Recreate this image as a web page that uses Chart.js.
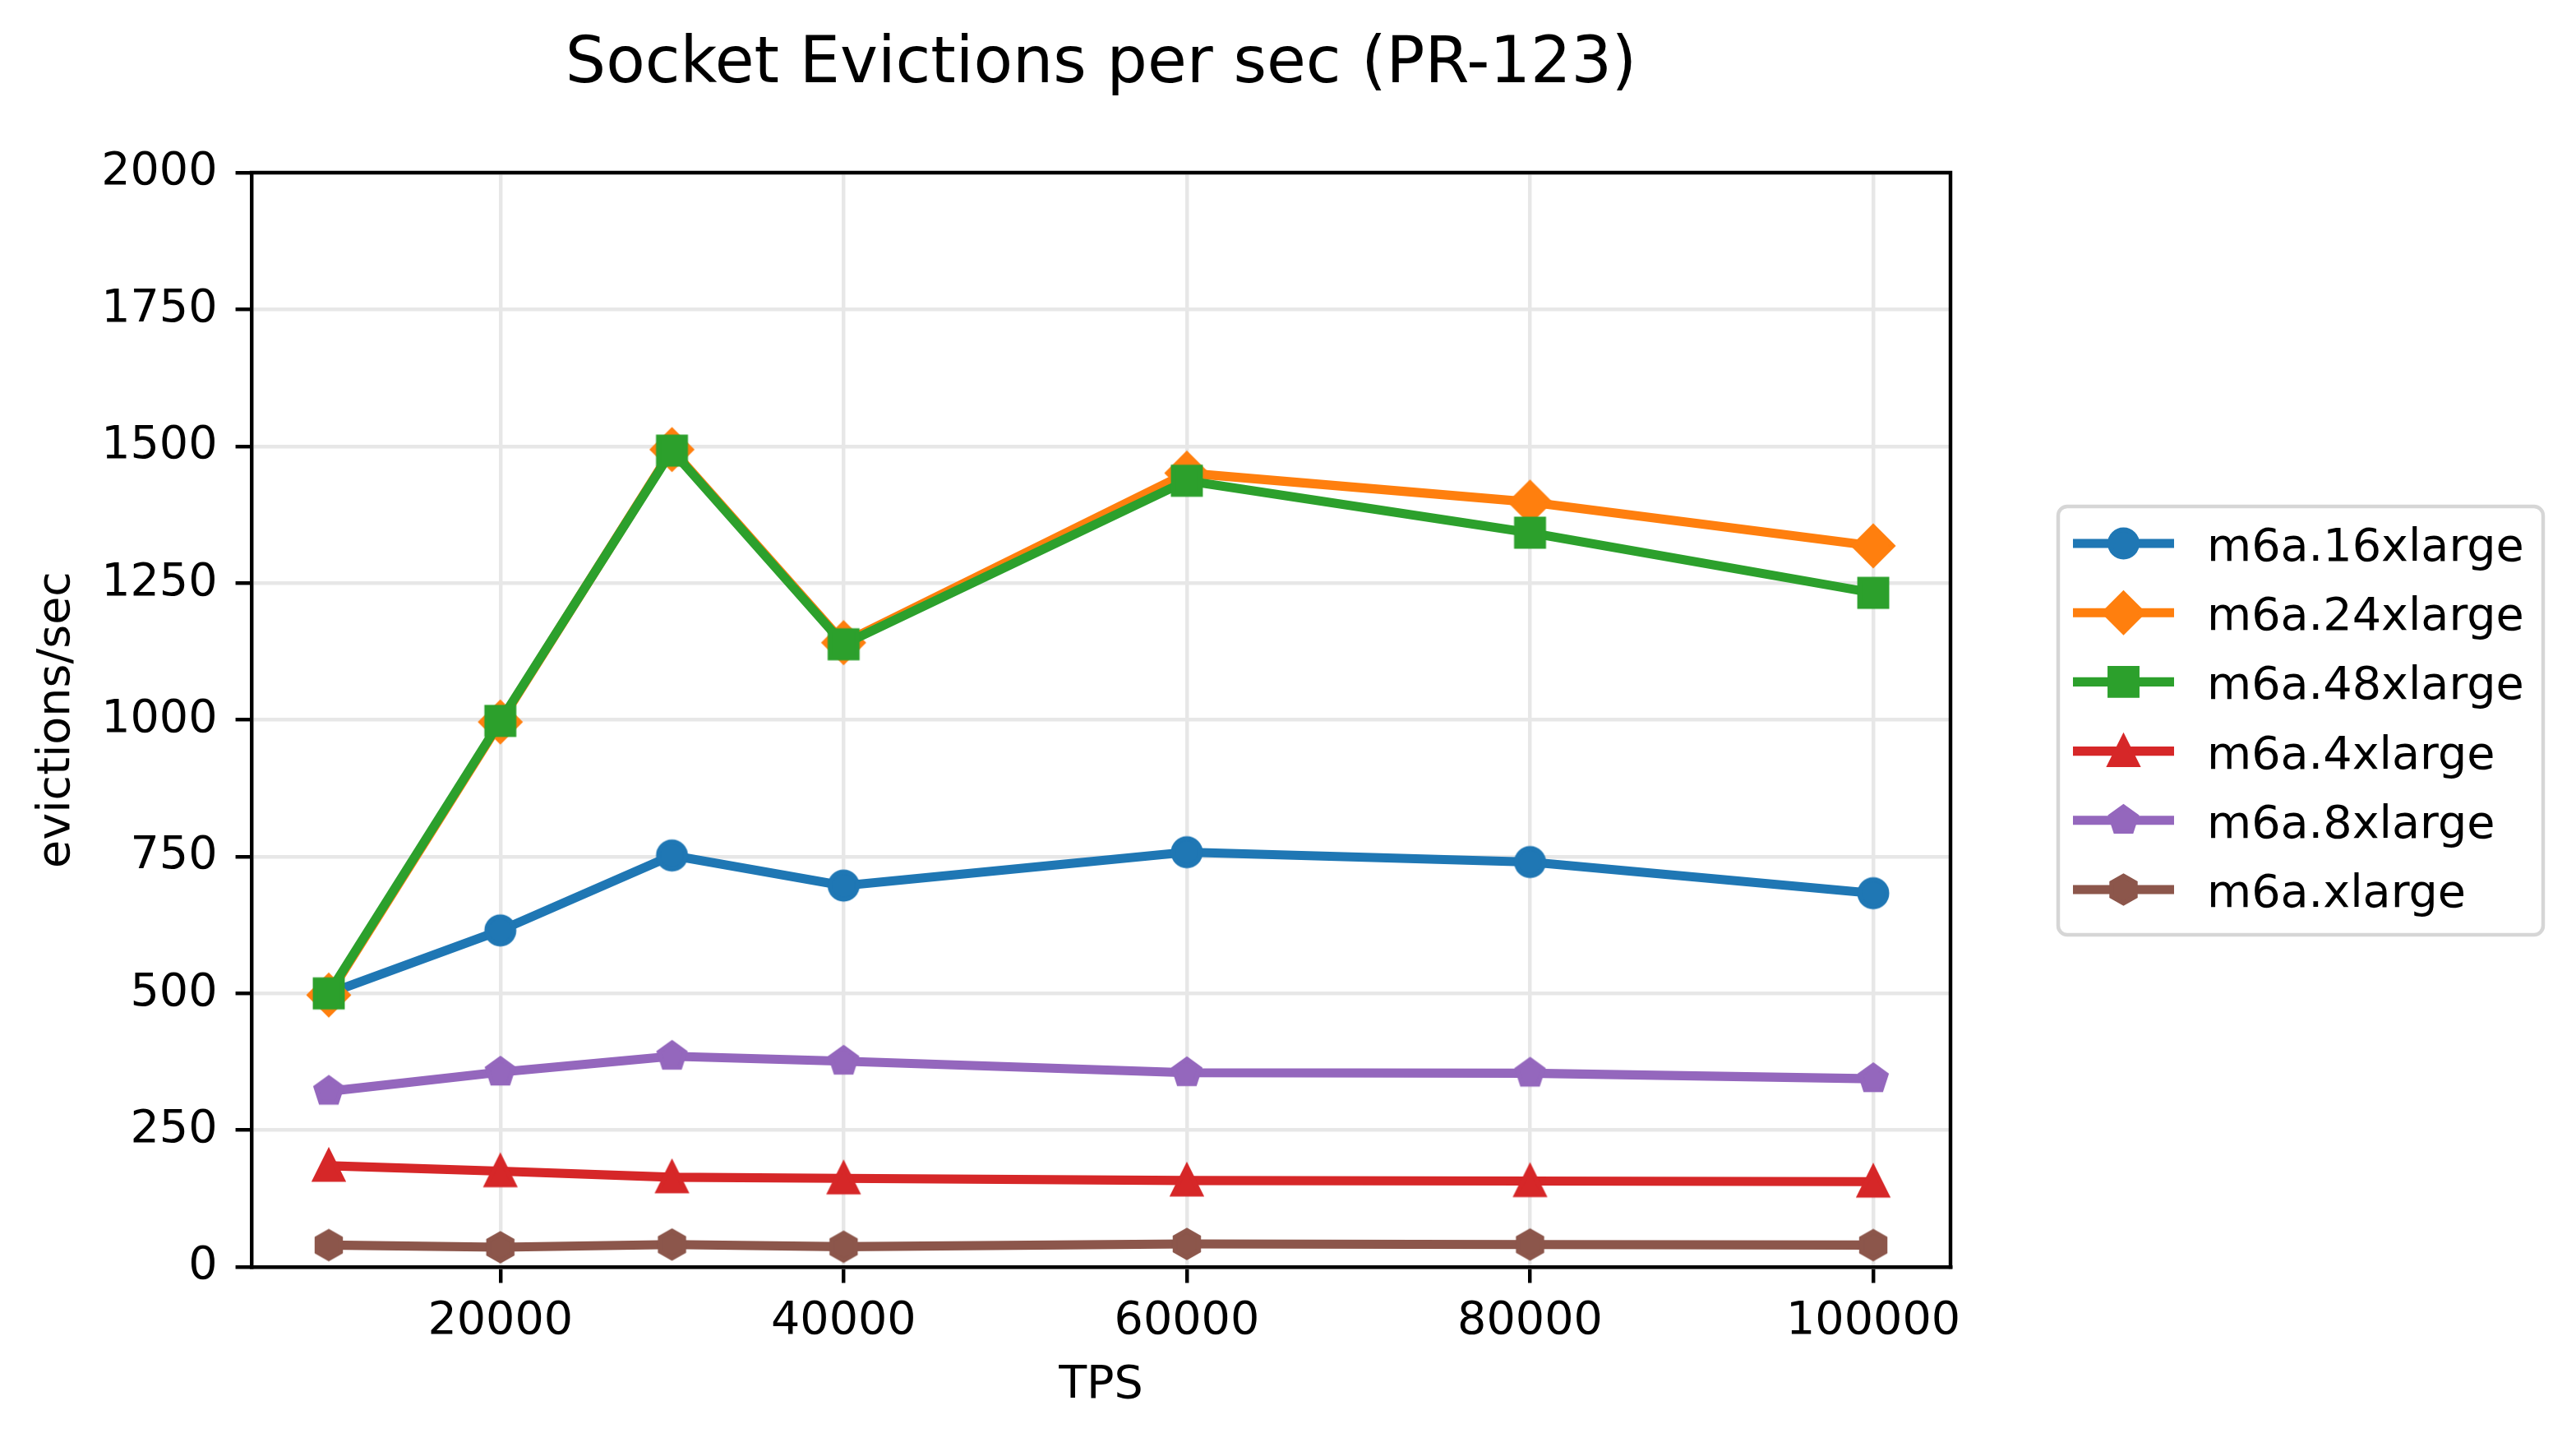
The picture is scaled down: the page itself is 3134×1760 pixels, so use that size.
<!DOCTYPE html>
<html>
<head>
<meta charset="utf-8">
<script src="https://cdn.jsdelivr.net/npm/chart.js@4.4.0/dist/chart.umd.min.js"></script>
<style>
  html, body { margin: 0; padding: 0; background: #fff; }
  canvas { display: block; }
</style>
</head>
<body>
<canvas id="grafico" width="3134" height="1760"></canvas>
<script>
// datos
const tps = [10000, 20000, 30000, 40000, 60000, 80000, 100000];
const xTicks = [20000, 40000, 60000, 80000, 100000];
const yTicks = [0, 250, 500, 750, 1000, 1250, 1500, 1750, 2000];

const nombres = ["m6a.16xlarge", "m6a.24xlarge", "m6a.48xlarge", "m6a.4xlarge", "m6a.8xlarge", "m6a.xlarge"];
const m6a16 = [500, 615, 752, 697, 758, 740, 683];
const m6a24 = [497, 996, 1494, 1141, 1451, 1398, 1318];
const m6a48 = [500, 998, 1492, 1138, 1437, 1342, 1232];
const m6a4 = [185, 175, 164, 162, 158, 157, 156];
const m6a8 = [321, 356, 385, 376, 355, 354, 344];
const m6a1 = [40, 36, 41, 37, 42, 41, 40];

const colores = ["#1f77b4", "#ff7f0e", "#2ca02c", "#d62728", "#9467bd", "#8c564b"];
const formas = ["circle", "diamond", "square", "triangle", "pentagon", "hexagon"];
const valores = [m6a16, m6a24, m6a48, m6a4, m6a8, m6a1];

const FUENTE = '"DejaVu Sans", sans-serif';
const PT = 400 / 72; // figura a 400 dpi

// marcadores como en matplotlib (ms = 6pt, borde 1pt)
function trazarForma(ctx, forma, cx, cy) {
  const ms = 6 * PT;
  const h = ms / 2;
  ctx.beginPath();
  if (forma === "circle") {
    ctx.arc(cx, cy, h, 0, Math.PI * 2);
  } else if (forma === "square") {
    ctx.rect(cx - h, cy - h, ms, ms);
  } else if (forma === "diamond") {
    const d = ms * Math.SQRT2 / 2;
    ctx.moveTo(cx, cy - d); ctx.lineTo(cx + d, cy); ctx.lineTo(cx, cy + d); ctx.lineTo(cx - d, cy);
    ctx.closePath();
  } else if (forma === "triangle") {
    ctx.moveTo(cx, cy - h); ctx.lineTo(cx + h, cy + h); ctx.lineTo(cx - h, cy + h);
    ctx.closePath();
  } else {
    const n = forma === "pentagon" ? 5 : 6;
    for (let i = 0; i < n; i++) {
      const a = -Math.PI / 2 + i * 2 * Math.PI / n;
      const px = cx + h * Math.cos(a), py = cy + h * Math.sin(a);
      if (i === 0) ctx.moveTo(px, py); else ctx.lineTo(px, py);
    }
    ctx.closePath();
  }
}

function dibujarMarcador(ctx, forma, color, cx, cy) {
  ctx.save();
  trazarForma(ctx, forma, cx, cy);
  ctx.fillStyle = color;
  ctx.strokeStyle = color;
  ctx.lineWidth = PT;
  ctx.lineJoin = "miter";
  ctx.fill();
  ctx.stroke();
  ctx.restore();
}

function crearMarcador(forma, color) {
  const c = document.createElement("canvas");
  c.width = 70; c.height = 70;
  dibujarMarcador(c.getContext("2d"), forma, color, 35, 35);
  return c;
}

const datasets = nombres.map((nombre, i) => ({
  label: nombre,
  data: tps.map((x, j) => ({ x: x, y: valores[i][j] })),
  borderColor: colores[i],
  backgroundColor: colores[i],
  borderWidth: 2 * PT,
  borderJoinStyle: "round",
  pointStyle: crearMarcador(formas[i], colores[i]),
  pointRadius: 10,
  pointHoverRadius: 10,
  tension: 0,
  order: nombres.length - i
}));

// ejes superior/derecho y leyenda
const extras = {
  id: "extras",
  afterDraw(chart) {
    const ctx = chart.ctx;
    const a = chart.chartArea;
    ctx.save();
    ctx.strokeStyle = "#000";
    ctx.lineWidth = 0.8 * PT;
    ctx.lineCap = "square";
    ctx.beginPath();
    ctx.moveTo(a.left, a.top); ctx.lineTo(a.right, a.top); ctx.lineTo(a.right, a.bottom);
    ctx.stroke();

    // leyenda
    const lx = 2504, ly = 616, lw = 590, lh = 521, r = 11;
    ctx.beginPath();
    ctx.roundRect(lx, ly, lw, lh, r);
    ctx.fillStyle = "rgba(255,255,255,0.8)";
    ctx.fill();
    ctx.strokeStyle = "#d6d6d6";
    ctx.lineWidth = 0.8 * PT;
    ctx.stroke();

    ctx.font = (10 * PT).toFixed(1) + "px " + FUENTE;
    ctx.textBaseline = "alphabetic";
    ctx.textAlign = "left";
    nombres.forEach((nombre, i) => {
      const y = 661 + i * 84.2;
      ctx.strokeStyle = colores[i];
      ctx.lineWidth = 2 * PT;
      ctx.lineCap = "butt";
      ctx.beginPath();
      ctx.moveTo(2522, y); ctx.lineTo(2645, y);
      ctx.stroke();
      dibujarMarcador(ctx, formas[i], colores[i], 2583.5, y);
      ctx.fillStyle = "#000";
      ctx.fillText(nombre, 2685, y + 21);
    });
    ctx.restore();
  }
};

new Chart(document.getElementById("grafico"), {
  type: "line",
  data: { datasets: datasets },
  options: {
    responsive: false,
    animation: false,
    devicePixelRatio: 1,
    layout: { padding: { left: 0, right: 761, top: 0, bottom: 0 } },
    plugins: {
      legend: { display: false },
      tooltip: { enabled: false },
      title: {
        display: true,
        text: "Socket Evictions per sec (PR-123)",
        color: "#000",
        fullSize: false,
        font: { family: FUENTE, size: 14 * PT, weight: "normal", lineHeight: 1.2 },
        padding: { top: 33, bottom: 83.7 }
      }
    },
    scales: {
      x: {
        type: "linear",
        min: 5500,
        max: 104500,
        afterBuildTicks: s => { s.ticks = xTicks.map(v => ({ value: v })); },
        afterFit: s => { s.height = 219; },
        ticks: {
          color: "#000",
          padding: 14,
          maxRotation: 0,
          font: { family: FUENTE, size: 10 * PT },
          callback: v => String(v)
        },
        grid: {
          color: "#e7e7e7",
          lineWidth: 0.8 * PT,
          tickColor: "#000",
          tickLength: 3.5 * PT,
          tickWidth: 0.8 * PT
        },
        border: { display: true, color: "#000", width: 0.8 * PT },
        title: {
          display: true,
          text: "TPS",
          color: "#000",
          font: { family: FUENTE, size: 10 * PT, lineHeight: 1.2 },
          padding: { top: 0, bottom: 40.6 }
        }
      },
      y: {
        type: "linear",
        min: 0,
        max: 2000,
        afterBuildTicks: s => { s.ticks = yTicks.map(v => ({ value: v })); },
        afterFit: s => { s.width = 306; },
        ticks: {
          color: "#000",
          padding: 22,
          font: { family: FUENTE, size: 10 * PT },
          callback: v => String(v)
        },
        grid: {
          color: "#e7e7e7",
          lineWidth: 0.8 * PT,
          tickColor: "#000",
          tickLength: 3.5 * PT,
          tickWidth: 0.8 * PT
        },
        border: { display: true, color: "#000", width: 0.8 * PT },
        title: {
          display: true,
          text: "evictions/sec",
          color: "#000",
          font: { family: FUENTE, size: 10 * PT, lineHeight: 1.2 },
          padding: { top: 36.6, bottom: 0 }
        }
      }
    }
  },
  plugins: [extras]
});
</script>
</body>
</html>
